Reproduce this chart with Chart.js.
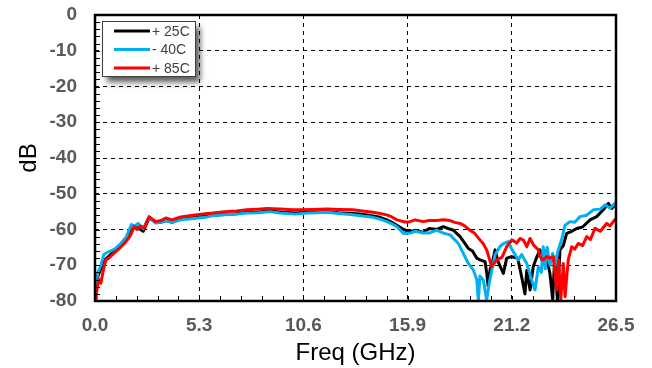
<!DOCTYPE html>
<html><head><meta charset="utf-8">
<script src="https://cdn.jsdelivr.net/npm/chart.js@4/dist/chart.umd.min.js"></script>
<style>html,body{margin:0;padding:0;background:#fff}#wrap{width:652px;height:368px}</style>
</head><body><div id="wrap"><canvas id="c" width="652" height="368"></canvas></div>
<script>
const seriesLabels = ['+ 25C', '- 40C', '+ 85C'];
const seriesColors = ['#000000', '#00B0F0', '#FF0000'];

const freq25 = [0,0.05,0.15,0.3,0.5,0.7,1.0,1.3,1.6,1.85,2.0,2.2,2.45,2.75,3.09,3.35,3.6,3.92,4.36,
  5.0,5.6,6.0,6.6,7.2,7.72,8.3,8.9,9.5,10.2,10.8,11.3,11.79,12.4,13.12,13.6,14.14,14.5,14.84,15.1,
  15.35,15.7,16.02,16.3,16.7,17.0,17.38,17.72,18.0,18.23,18.57,18.99,19.2,19.42,19.58,19.84,19.92,20.0,20.1,20.18,
  20.35,20.5,20.77,20.94,21.2,21.5,21.7,21.87,21.96,22.13,22.29,22.45,22.63,22.75,22.9,23.14,23.28,23.38,23.52,23.65,
  23.82,23.99,24.25,24.5,24.8,25.18,25.52,25.85,26.11,26.28,26.45,26.5];
const db25 = [-80,-76,-73,-71,-68.5,-67.5,-66,-64.5,-62.5,-60,-59.5,-59.5,-60.5,-56.8,-58,-58,-57.5,-58,-57,
  -56.6,-56.3,-56,-55.8,-55.6,-55.2,-55.1,-54.8,-55.2,-55.4,-55.2,-55.1,-55,-55.3,-55.5,-55.7,-56.2,-56.6,-57.3,-58,
  -58.8,-60,-60.6,-60.2,-60.8,-59.7,-60,-59.2,-59.8,-60.2,-62,-65.3,-66,-68,-68.5,-69,-72,-76,-71,-70,
  -65.7,-69,-72.3,-68,-67.6,-68,-73.2,-78,-71.5,-76.9,-70.4,-68,-65.7,-69,-66,-72.3,-79.7,-68,-79.7,-65.7,
  -64.5,-61.1,-60.5,-59.7,-59.3,-57.3,-56.4,-54.5,-52.7,-54.1,-53.2,-53.5];

const freq40 = [0,0.05,0.15,0.3,0.45,0.6,0.8,1.0,1.3,1.6,1.85,2.0,2.2,2.45,2.75,3.09,3.35,3.6,3.92,4.36,
  5.0,5.6,6.0,6.6,7.2,7.72,8.3,8.9,9.4,10.2,10.8,11.3,11.79,12.4,13.12,13.6,14.14,14.5,14.84,15.1,
  15.35,15.7,16.02,16.3,16.7,17.0,17.38,17.72,18.06,18.48,18.99,19.24,19.42,19.5,19.58,19.75,19.92,20.05,20.35,20.6,
  20.75,21.02,21.2,21.53,21.7,21.96,22.21,22.38,22.55,22.7,22.8,22.9,23.0,23.14,23.28,23.38,23.55,23.75,23.91,24.16,
  24.4,24.67,25.0,25.35,25.7,25.94,26.2,26.45,26.5];
const db40 = [-79,-75,-72,-70,-67,-66.5,-66,-65.5,-64,-62,-58.6,-59,-58.3,-59.8,-56.6,-58.2,-58,-57.5,-58,-57.3,
  -56.9,-56.6,-56.1,-55.9,-55.7,-55.4,-55.3,-55,-55.4,-55.7,-55.4,-55.3,-55.2,-55.5,-55.9,-56.2,-56.6,-57.1,-57.8,-58.4,
  -59.2,-61.1,-61,-60.5,-61,-61,-60.2,-61,-61.5,-63.9,-69.5,-71.3,-74,-80,-73,-74.1,-79.7,-75,-67,-64.8,
  -64,-63.4,-65.5,-68.5,-67,-69.5,-74.1,-76.9,-70.4,-72,-64.8,-71,-65,-70,-66.7,-70,-66,-62.5,-58.8,-57.8,
  -58,-56.4,-56,-54.5,-54.3,-53.1,-54,-52.7,-53];

const freq85 = [0,0.04,0.12,0.2,0.3,0.4,0.55,0.7,0.97,1.2,1.48,1.7,1.82,1.98,2.15,2.32,2.49,2.75,3.09,3.35,3.6,3.92,4.36,
  5.0,5.6,6.0,6.6,7.2,7.72,8.3,8.73,9.4,10.07,10.43,11.1,11.79,12.4,13.12,13.6,14.14,14.5,14.84,15.1,
  15.35,15.77,16.02,16.28,16.7,17.0,17.38,17.72,18.06,18.3,18.57,18.8,19.07,19.3,19.58,19.75,19.92,20.18,20.43,20.7,
  20.94,21.2,21.45,21.62,21.8,21.96,22.13,22.3,22.55,22.63,22.8,22.98,23.14,23.31,23.48,23.58,23.69,23.82,23.91,24.07,
  24.25,24.4,24.58,24.8,25.01,25.2,25.43,25.7,26.03,26.2,26.45,26.5];
const db85 = [-80,-79,-76,-74,-75,-72,-68.5,-68,-66.6,-65.5,-64,-62.5,-61.5,-59.2,-60,-59,-59.6,-56.4,-57.8,-57.5,-56.8,-57.3,-56.5,
  -56,-55.6,-55.4,-55,-54.8,-54.5,-54.3,-54.1,-54.3,-54.5,-54.5,-54.4,-54.3,-54.4,-54.5,-54.8,-55.2,-55.5,-55.9,-56.5,
  -57.3,-57.9,-57.8,-57.3,-57.8,-57.5,-57.5,-57.3,-57.5,-58,-58.3,-59,-60.2,-61,-62.9,-64,-65.7,-70.4,-68.5,-67.8,
  -64.8,-62.9,-63.8,-62.5,-63,-64.8,-62.5,-64.3,-65.7,-67.6,-68.5,-67.6,-68,-67.6,-76.9,-68.5,-79.7,-69.5,-78.8,-68.5,
  -64.8,-65.5,-63.9,-64.5,-62,-62.8,-59.7,-60.5,-58.3,-59,-57.2,-57.5];

const xTickValues = [0, 5.3, 10.6, 15.9, 21.2, 26.5];
const yTickValues = [0, -10, -20, -30, -40, -50, -60, -70, -80];

function pts(fx, fy) { return fx.map((f, i) => ({ x: f, y: fy[i] })); }

const decor = {
  id: 'decor',
  afterDatasetsDraw(chart) {
    const { ctx, chartArea: a, scales: { x, y } } = chart;
    ctx.save();
    ctx.strokeStyle = '#000';
    ctx.lineWidth = 1;
    ctx.beginPath();
    for (let v = -80; v <= 0; v += 2) {
      const py = Math.round(y.getPixelForValue(v)) + 0.5;
      ctx.moveTo(a.left, py); ctx.lineTo(a.left + 5, py);
    }
    for (let k = 0; k <= 25; k++) {
      const px = Math.round(x.getPixelForValue(k * 1.06)) + 0.5;
      ctx.moveTo(px, a.bottom); ctx.lineTo(px, a.bottom - 5);
    }
    ctx.stroke();
    ctx.lineWidth = 2.5;
    ctx.strokeRect(a.left, a.top, a.right - a.left, a.bottom - a.top);
    ctx.restore();
  },
  afterDraw(chart) {
    const { ctx } = chart;
    const bx = 102.5, by = 21.5, bw = 93, bh = 55;
    ctx.save();
    ctx.shadowColor = 'rgba(0,0,0,0.65)';
    ctx.shadowBlur = 6;
    ctx.shadowOffsetX = 4;
    ctx.shadowOffsetY = 5;
    ctx.fillStyle = '#fff';
    ctx.fillRect(bx, by, bw, bh);
    ctx.restore();
    ctx.save();
    ctx.strokeStyle = '#404040';
    ctx.lineWidth = 1;
    ctx.strokeRect(bx, by, bw, bh);
    ctx.font = '14px Arial, "Liberation Sans", sans-serif';
    ctx.textBaseline = 'middle';
    ctx.fillStyle = '#404040';
    chart.data.datasets.forEach((ds, i) => {
      const ly = 31 + i * 18.5;
      ctx.strokeStyle = ds.borderColor;
      ctx.lineWidth = 3;
      ctx.beginPath(); ctx.moveTo(114, ly); ctx.lineTo(150, ly); ctx.stroke();
      ctx.fillText(ds.label, 152, ly + 1);
    });
    ctx.restore();
  }
};

const tickFont = { family: 'Arial, "Liberation Sans", sans-serif', size: 19, weight: 'bold' };
const titleFont = { family: 'Arial, "Liberation Sans", sans-serif', size: 24 };

new Chart(document.getElementById('c'), {
  type: 'line',
  data: {
    datasets: [
      { label: seriesLabels[0], data: pts(freq25, db25), borderColor: seriesColors[0], order: 3 },
      { label: seriesLabels[1], data: pts(freq40, db40), borderColor: seriesColors[1], order: 2 },
      { label: seriesLabels[2], data: pts(freq85, db85), borderColor: seriesColors[2], order: 1 }
    ]
  },
  options: {
    responsive: false,
    animation: false,
    devicePixelRatio: 1,
    datasets: { line: { borderWidth: 3, pointRadius: 0, tension: 0, borderJoinStyle: 'round', fill: false } },
    layout: { padding: { top: 15, right: 36, left: 0, bottom: 0 } },
    plugins: { legend: { display: false }, tooltip: { enabled: false } },
    scales: {
      x: {
        type: 'linear', min: 0, max: 26.5,
        afterBuildTicks: s => { s.ticks = xTickValues.map(v => ({ value: v })); },
        afterFit: s => { s.height = 67; s.paddingLeft = 0; s.paddingRight = 0; },
        ticks: { callback: v => Number(v).toFixed(1), font: tickFont, color: '#595959', padding: 13, maxRotation: 0, autoSkip: false },
        grid: { color: '#000', lineWidth: 1, drawTicks: false },
        border: { display: false, dash: [4, 4] },
        title: { display: true, text: 'Freq (GHz)', font: titleFont, color: '#000', padding: { top: 0, bottom: 0 } }
      },
      y: {
        type: 'linear', min: -80, max: 0,
        afterBuildTicks: s => { s.ticks = yTickValues.map(v => ({ value: v })); },
        afterFit: s => { s.width = 95; s.paddingTop = 0; s.paddingBottom = 0; },
        ticks: { callback: v => String(v), font: tickFont, color: '#595959', padding: 18 },
        grid: { color: '#000', lineWidth: 1, drawTicks: false },
        border: { display: false, dash: [4, 4] },
        title: { display: true, text: 'dB', font: titleFont, color: '#000', padding: { top: 15, bottom: 0 } }
      }
    }
  },
  plugins: [decor]
});
</script>
</body></html>
